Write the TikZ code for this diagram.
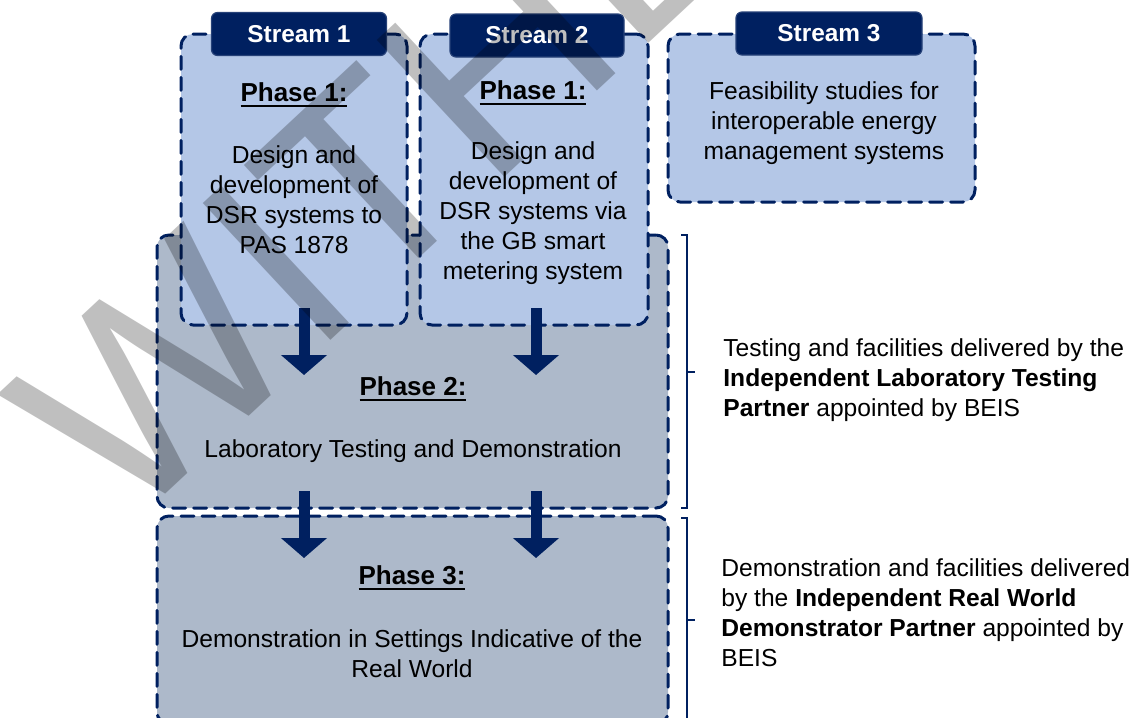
\documentclass[tikz,border=0pt]{standalone}
\usepackage{fontspec}
\setmainfont{Liberation Sans}
\usetikzlibrary{arrows.meta}
\definecolor{navy}{HTML}{002060}
\definecolor{lightblue}{HTML}{B4C7E7}
\definecolor{slateblue}{HTML}{ADB9CA}
\newcommand{\phaseul}[1]{\setbox0\hbox{#1}\rlap{\rule[-3pt]{\wd0}{1.3pt}}\box0}
\tikzset{
	streambox/.style={draw=navy, fill=lightblue, line width=1.5pt, dash pattern=on 6.5pt off 4pt, rounded corners=6pt, inner sep=0pt},
	phasebox/.style={streambox, fill=slateblue},
	tab/.style={draw=navy!85!white, fill=navy, line width=0.6pt, rounded corners=3pt, text=white, inner sep=0pt, font=\fontsize{12.2}{15}\selectfont\bfseries},
	body/.style={align=center, inner sep=0pt, font=\fontsize{12.3}{15}\selectfont},
	heading/.style={inner sep=0pt, font=\fontsize{13}{15}\selectfont\bfseries},
	note/.style={align=left, anchor=west, inner sep=0pt, font=\fontsize{12.3}{15}\selectfont},
	flow/.style={navy, line width=5.5pt, line cap=butt, -{Triangle[width=22.5pt,length=10pt]}},
	brace/.style={navy, line width=1pt, line cap=butt, line join=miter},
	watermark/.style={anchor=base west, rotate=43, inner sep=0pt, text=black, text opacity=0.25, font=\fontsize{136}{136}\selectfont},
}
\begin{document}
\begin{tikzpicture}[line cap=round,line join=round,>=stealth,x=0.5pt,y=-0.5pt]
	\useasboundingbox (0,0) rectangle (1136,718);
	\clip (0,0) rectangle (1136,718);
	% Khung giai doan 2 va 3
	\node[phasebox, minimum width=255.5pt, minimum height=136.5pt] (p2) at (412.5,371.5) {};
	\node[phasebox, minimum width=255.5pt, minimum height=104pt] (p3) at (412.5,620) {};
	% Khung cac luong
	\node[streambox, minimum width=113pt, minimum height=145.5pt] (s1) at (294,179.5) {};
	\node[streambox, minimum width=114pt, minimum height=145.5pt] (s2) at (534,179.5) {};
	\node[streambox, minimum width=153.5pt, minimum height=84pt] (s3) at (821.5,118) {};
	% Nhan cac luong
	\node[tab, minimum width=87.5pt, minimum height=21.5pt] (t1) at (299,34) {Stream 1};
	\node[tab, minimum width=87pt, minimum height=21.5pt] (t2) at (537,35.5) {Stream 2};
	\node[tab, minimum width=93pt, minimum height=21.5pt] (t3) at (829,33.5) {Stream 3};
	% Noi dung
	\node[heading] (h1) at (294,95) {\phaseul{Phase 1:}};
	\node[body] (b1) at (294,200) {Design and\\development of\\DSR systems to\\PAS 1878};
	\node[heading] (h2) at (533,93) {\phaseul{Phase 1:}};
	\node[body] (b2) at (533,213.5) {Design and\\development of\\DSR systems via\\the GB smart\\metering system};
	\node[body] (b3) at (824,123.5) {Feasibility studies for\\interoperable energy\\management systems};
	\node[heading] (h4) at (413,389) {\phaseul{Phase 2:}};
	\node[body] (b4) at (413,451.5) {Laboratory Testing and Demonstration};
	\node[heading] (h5) at (412,578) {\phaseul{Phase 3:}};
	\node[body] (b5) at (412,654) {Demonstration in Settings Indicative of the\\Real World};
	% Mui ten giua cac giai doan
	\foreach \i/\xa/\ya/\yb in {1/304/308/375, 2/536/308/375, 3/304/491/558, 4/536/491/558} {
		\coordinate (f\i s) at (\xa,\ya);
		\coordinate (f\i e) at (\xa,\yb);
		\draw[flow] (f\i s) -- (f\i e);
	}
	% Ngoac va ghi chu ben phai
	\coordinate (k1) at (681,235);
	\coordinate (k2) at (681,508);
	\coordinate (k3) at (681,518);
	\draw[brace] (k1) -- ++(6,0) |- (k2);
	\draw[brace] (k3) -- ++(6,0) -- ++(0,222);
	\coordinate (m1) at (687,372);
	\coordinate (m2) at (687,620);
	\draw[brace] (m1) -- ++(8,0);
	\draw[brace] (m2) -- ++(8,0);
	\node[note] (n1) at (723,380.5) {Testing and facilities delivered by the\\\textbf{Independent Laboratory Testing}\\\textbf{Partner} appointed by BEIS};
	\node[note] (n2) at (721,613) {Demonstration and facilities delivered\\by the \textbf{Independent Real World}\\\textbf{Demonstrator Partner} appointed by\\BEIS};
	% Chu chim
	\node[watermark] (wm) at (124,533) {WITHDRAWN};
\end{tikzpicture}
\end{document}
